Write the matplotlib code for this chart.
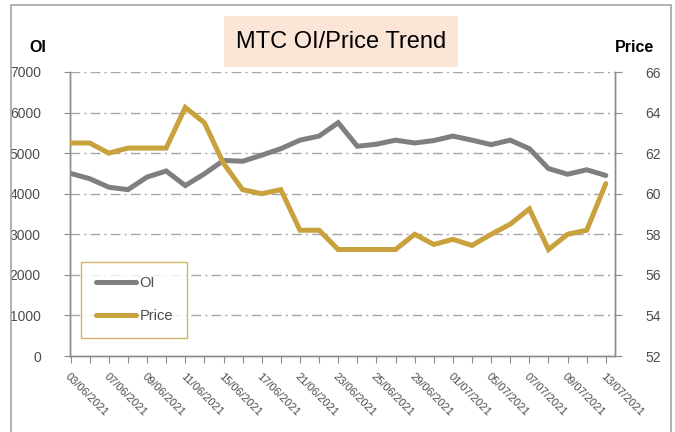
import numpy as np
import matplotlib
matplotlib.use("Agg")
import matplotlib.pyplot as plt
from matplotlib.patches import Rectangle
from matplotlib.lines import Line2D

plt.rcParams['font.family'] = ['Liberation Sans', 'DejaVu Sans']

# trading days
dates = ['03/06/2021', '04/06/2021', '07/06/2021', '08/06/2021', '09/06/2021',
         '10/06/2021', '11/06/2021', '14/06/2021', '15/06/2021', '16/06/2021',
         '17/06/2021', '18/06/2021', '21/06/2021', '22/06/2021', '23/06/2021',
         '24/06/2021', '25/06/2021', '28/06/2021', '29/06/2021', '30/06/2021',
         '01/07/2021', '02/07/2021', '05/07/2021', '06/07/2021', '07/07/2021',
         '08/07/2021', '09/07/2021', '12/07/2021', '13/07/2021']

oi = [4500, 4370, 4160, 4100, 4410, 4560, 4200, 4490, 4820, 4800,
      4950, 5110, 5320, 5420, 5750, 5170, 5220, 5320, 5250, 5310,
      5420, 5320, 5210, 5320, 5110, 4620, 4480, 4590, 4450]

price = [62.5, 62.5, 62.0, 62.25, 62.25, 62.25, 64.25, 63.5, 61.5, 60.2,
         60.0, 60.2, 58.2, 58.2, 57.25, 57.25, 57.25, 57.25, 58.0, 57.5,
         57.75, 57.45, 58.0, 58.5, 59.25, 57.25, 58.0, 58.2, 60.5]

oi_color = '#7F7F7F'
price_color = '#C9A13D'
axis_color = '#8C8C8C'
text_color = '#4D4D4D'

fig = plt.figure(figsize=(6.75, 4.32), dpi=100)
W, H = 675, 432

# outer frame
fig.patches.append(Rectangle((11 / W, -0.05), 660 / W, 1 - 5 / H + 0.05,
                             transform=fig.transFigure, fill=False,
                             edgecolor='#A6A6A6', linewidth=1.2))

ax = fig.add_axes([70 / W, 1 - 356 / H, 545 / W, 284 / H])
ax2 = ax.twinx()

x = np.arange(len(dates))
ax.plot(x, oi, color=oi_color, linewidth=3.6, solid_capstyle='round',
        solid_joinstyle='miter', zorder=3)
ax2.plot(x, price, color=price_color, linewidth=3.6, solid_capstyle='round',
         solid_joinstyle='miter', zorder=3)

ax.set_xlim(-0.03, 28.48)
ax.set_ylim(0, 7000)
ax2.set_ylim(52, 66)
ax.set_yticks(range(0, 7001, 1000))
ax2.set_yticks(range(52, 67, 2))

for yv in range(1000, 7001, 1000):
    ax.axhline(yv, color='#A6A6A6', linewidth=1.0,
               linestyle=(0, (7, 3, 1.5, 3)), zorder=1)

ax.set_xticks(x)
labels = [d if i % 2 == 0 else '' for i, d in enumerate(dates)]
ax.set_xticklabels(labels, rotation=-45, ha='left', va='top',
                   rotation_mode='anchor', fontsize=8, color=text_color)
ax.tick_params(axis='x', direction='out', length=5, color=axis_color, pad=6)
ax.tick_params(axis='y', direction='out', length=4, color=axis_color, pad=17,
               labelsize=10, labelcolor=text_color)
ax2.tick_params(axis='y', direction='out', length=5, color=axis_color, pad=17,
                labelsize=10, labelcolor=text_color)

for a in (ax, ax2):
    a.spines['top'].set_visible(False)
    for s in ('left', 'right', 'bottom'):
        a.spines[s].set_color(axis_color)
        a.spines[s].set_linewidth(1.0)

# title with shaded box
fig.patches.append(Rectangle((224 / W, 1 - 67 / H), 234 / W, 51 / H,
                             transform=fig.transFigure, facecolor='#FBE5D6',
                             edgecolor='none'))
fig.text(341 / W, 1 - 42 / H, 'MTC OI/Price Trend', ha='center', va='center',
         fontsize=17, color='#000000')

fig.text(38 / W, 1 - 47 / H, 'OI', ha='center', va='center', fontsize=11.5,
         fontweight='bold', color='#000000')
fig.text(634 / W, 1 - 47 / H, 'Price', ha='center', va='center',
         fontsize=11.5, fontweight='bold', color='#000000')

handles = [Line2D([], [], color=oi_color, linewidth=3.6, solid_capstyle='round'),
           Line2D([], [], color=price_color, linewidth=3.6,
                  solid_capstyle='round')]
leg = ax.legend(handles, ['OI', 'Price'], loc='lower left',
                bbox_to_anchor=(11 / 545, 18 / 284), fontsize=10.5,
                frameon=True, fancybox=False, handlelength=2.8,
                handletextpad=0.2, labelspacing=1.3, borderpad=1.0,
                borderaxespad=0)
leg._legend_box.align = 'left'
leg.get_frame().set_edgecolor(price_color)
leg.get_frame().set_linewidth(1.0)
for t in leg.get_texts():
    t.set_color(text_color)
leg.set_zorder(5)

# stretch legend frame a little to the right like the original
fig.canvas.draw()
bb = leg.get_window_extent()
leg.get_frame().set_width(bb.width + 8)

fig.savefig('out.png', dpi=100)
